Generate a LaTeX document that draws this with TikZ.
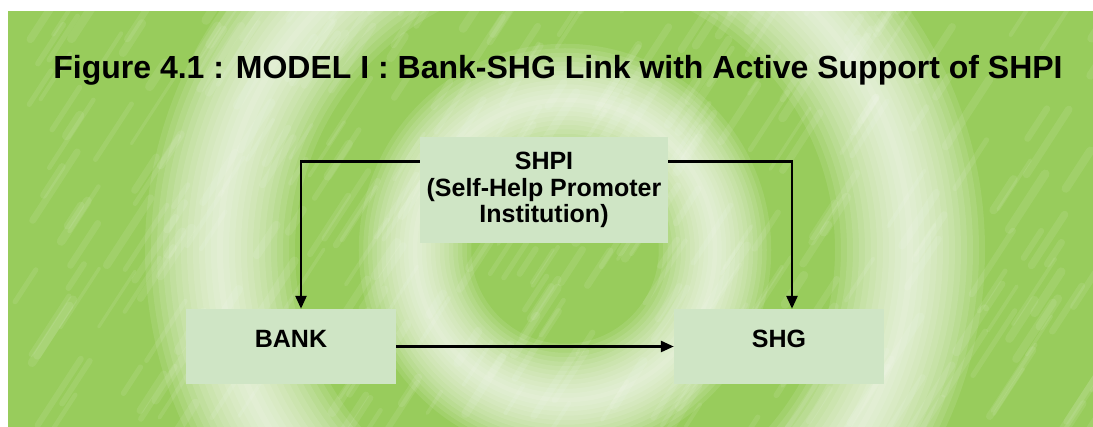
\documentclass[tikz,border=0pt]{standalone}
\usepackage{fontspec}
\setmainfont{Liberation Sans}
\usetikzlibrary{arrows.meta}
\definecolor{leaf}{RGB}{152,204,92}
\definecolor{boxfill}{RGB}{207,229,197}

\begin{document}
\begin{tikzpicture}[x=1pt,y=-1pt,
    box/.style={fill=boxfill,inner sep=0pt,font=\fontsize{25}{26.5}\selectfont\bfseries},
    small/.style={box,minimum width=210pt,minimum height=75pt,text height=18pt,text depth=15pt},
    link/.style={line width=2.6pt,-{Triangle[length=13pt,width=11pt]}}]
  \useasboundingbox (0,0) rectangle (1093,427);
  \begin{scope}
    \clip (8,11) rectangle (1093,427);
    \fill[leaf] (8,11) rectangle (1093,427);
    \pgfmathsetseed{41}
    \foreach \i in {1,...,320}{
      \pgfmathsetmacro\px{8+1085*rnd}
      \pgfmathsetmacro\py{11+430*rnd}
      \pgfmathsetmacro\pl{20+50*rnd}
      \pgfmathsetmacro\pw{3+6*rnd}
      \draw[white,opacity=.09,line width=\pw pt,line cap=round]
        (\px,\py) -- ++(.65*\pl,-\pl);
    }
    \foreach \w [evaluate=\w as \v using .75*\w] in {150,138,...,6}{
      \draw[white,opacity=.1,line width=\w pt] (565,250) circle[radius=345pt];
      \draw[white,opacity=.1,line width=\v pt] (565,250) circle[radius=150pt];
    }
  \end{scope}
  \node[font=\fontsize{32}{38}\selectfont\bfseries,anchor=base] (title) at (558,79)
    {Figure 4.1 : MODEL I : Bank-SHG Link with Active Support of SHPI};
  \node[box,minimum width=248pt,minimum height=106pt,align=center] (shpi) at (544,190)
    {SHPI\\(Self-Help Promoter\\Institution)};
  \node[small] (bank) at (291,346.5) {BANK};
  \node[small] (shg) at (779,346.5) {SHG};
  \draw[link] ([yshift=-25pt]shpi.north west) -| ([xshift=10pt]bank.north);
  \draw[link] ([yshift=-25pt]shpi.north east) -| ([xshift=13pt]shg.north);
  \draw[link] (bank) -- (shg);
\end{tikzpicture}
\end{document}
